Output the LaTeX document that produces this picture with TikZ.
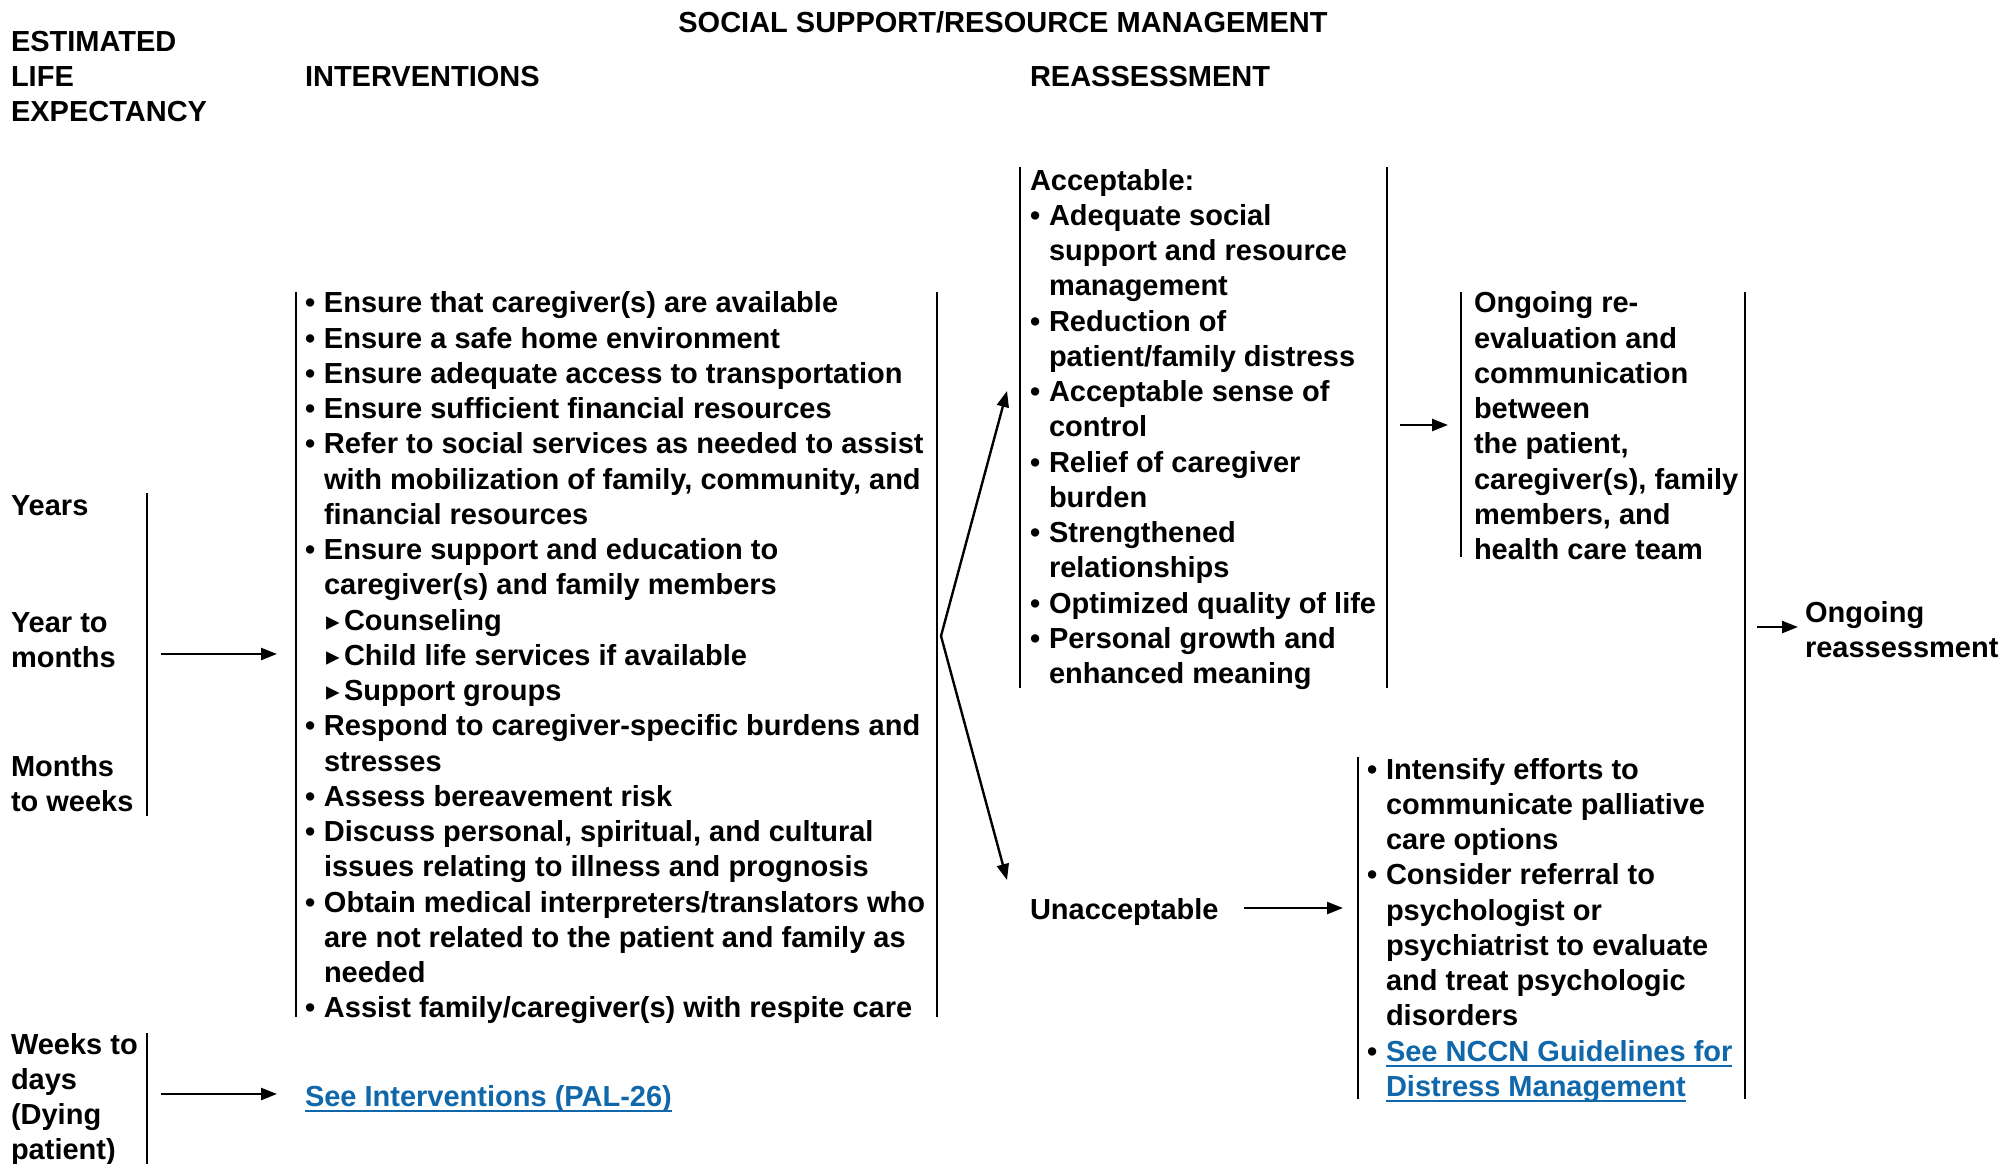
\documentclass[tikz,border=0pt]{standalone}
\usepackage{fontspec}
\setmainfont{Liberation Sans}
\newfontfamily\dvs{DejaVu Sans}
\usetikzlibrary{arrows.meta}
\definecolor{linkblue}{RGB}{16,104,170}
\newcommand{\bl}{\makebox[19pt][l]{\textbullet}}
\newcommand{\ind}{\hspace*{19pt}}
\newcommand{\tri}{\hspace*{21pt}\makebox[18pt][l]{\dvs\fontsize{27}{27}\selectfont ▸}}
\newcommand{\lnk}[1]{{\color{linkblue}\setbox0\hbox{#1}\rlap{\rule[-6pt]{\wd0}{2pt}}\box0}}
\tikzset{
  txt/.style={inner sep=0pt, outer sep=0pt, align=left,
    font=\fontsize{29}{35.25}\selectfont\bfseries},
  bar/.style={line width=2.4pt},
  arr/.style={line width=2.4pt, -{Triangle[length=16pt,width=12pt]}},
}
\begin{document}
\begin{tikzpicture}[x=1pt,y=-1pt]
\useasboundingbox[fill=white] (0,0) rectangle (1999,1164);

% headers
\node[txt, anchor=base] (title) at (1003,33) {SOCIAL SUPPORT/RESOURCE MANAGEMENT};
\node[txt, anchor=north west] (ele) at (11,26.5) {\strut ESTIMATED\\LIFE\\EXPECTANCY};
\node[txt, anchor=base west] (hint) at (305,86.5) {INTERVENTIONS};
\node[txt, anchor=base west] (hrea) at (1030,86.5) {REASSESSMENT};

% left column
\node[txt, anchor=base west] (years) at (11,515) {Years};
\node[txt, anchor=north west] (ytm) at (11,607.5) {\strut Year to\\months};
\node[txt, anchor=north west] (mtw) at (11,751.5) {\strut Months\\to weeks};
\node[txt, anchor=north west] (wtd) at (11,1029.5) {\strut Weeks to\\days\\(Dying\\patient)};
\draw[bar] (147,493) -- (147,816);
\draw[bar] (147,1033) -- (147,1164);

% interventions
\node[txt, anchor=north west] (interv) at (305,288.3) {\strut\bl Ensure that caregiver(s) are available\\
\bl Ensure a safe home environment\\
\bl Ensure adequate access to transportation\\
\bl Ensure sufficient financial resources\\
\bl Refer to social services as needed to assist\\
\ind with mobilization of family, community, and\\
\ind financial resources\\
\bl Ensure support and education to\\
\ind caregiver(s) and family members\\
\tri Counseling\\
\tri Child life services if available\\
\tri Support groups\\
\bl Respond to caregiver-specific burdens and\\
\ind stresses\\
\bl Assess bereavement risk\\
\bl Discuss personal, spiritual, and cultural\\
\ind issues relating to illness and prognosis\\
\bl Obtain medical interpreters/translators who\\
\ind are not related to the patient and family as\\
\ind needed\\
\bl Assist family/caregiver(s) with respite care};
\draw[bar] (296,292) -- (296,1017);
\draw[bar] (937,292) -- (937,1017);

\node[txt, anchor=base west] (pal) at (305,1106) {\lnk{See Interventions (PAL-26)}};

\coordinate (a1s) at (161,654);
\coordinate (a1e) at (277,654);
\coordinate (a2s) at (161,1094);
\coordinate (a2e) at (277,1094);
\draw[arr] (a1s) -- (a1e);
\draw[arr] (a2s) -- (a2e);

% fork
\coordinate (apex) at (941,636);
\coordinate (tipA) at (1007,391);
\coordinate (tipU) at (1007,880);
\draw[arr] (apex) -- (tipA);
\draw[arr] (apex) -- (tipU);

% acceptable
\node[txt, anchor=north west] (acc) at (1030,165.5) {\strut Acceptable:\\
\bl Adequate social\\
\ind support and resource\\
\ind management\\
\bl Reduction of\\
\ind patient/family distress\\
\bl Acceptable sense of\\
\ind control\\
\bl Relief of caregiver\\
\ind burden\\
\bl Strengthened\\
\ind relationships\\
\bl Optimized quality of life\\
\bl Personal growth and\\
\ind enhanced meaning};
\draw[bar] (1020,167) -- (1020,688);
\draw[bar] (1387,167) -- (1387,688);

\coordinate (a3s) at (1400,425);
\coordinate (a3e) at (1448,425);
\draw[arr] (a3s) -- (a3e);

% ongoing
\node[txt, anchor=north west] (ong) at (1474,288.3) {\strut Ongoing re-\\
evaluation and\\
communication\\
between\\
the patient,\\
caregiver(s), family\\
members, and\\
health care team};
\draw[bar] (1461,292) -- (1461,557);
\draw[bar] (1745,292) -- (1745,1099);

\coordinate (a4s) at (1757,627);
\coordinate (a4e) at (1798,627);
\draw[arr] (a4s) -- (a4e);
\node[txt, anchor=north west] (reas) at (1805,597.5) {\strut Ongoing\\reassessment};

% unacceptable
\node[txt, anchor=base west] (unacc) at (1030,919) {Unacceptable};
\coordinate (a5s) at (1244,908);
\coordinate (a5e) at (1343,908);
\draw[arr] (a5s) -- (a5e);

\node[txt, anchor=north west] (ulist) at (1367,754.5) {\strut\bl Intensify efforts to\\
\ind communicate palliative\\
\ind care options\\
\bl Consider referral to\\
\ind psychologist or\\
\ind psychiatrist to evaluate\\
\ind and treat psychologic\\
\ind disorders\\
\bl \lnk{See NCCN Guidelines for}\\
\ind \lnk{Distress Management}};
\draw[bar] (1358,757) -- (1358,1099);
\end{tikzpicture}
\end{document}
